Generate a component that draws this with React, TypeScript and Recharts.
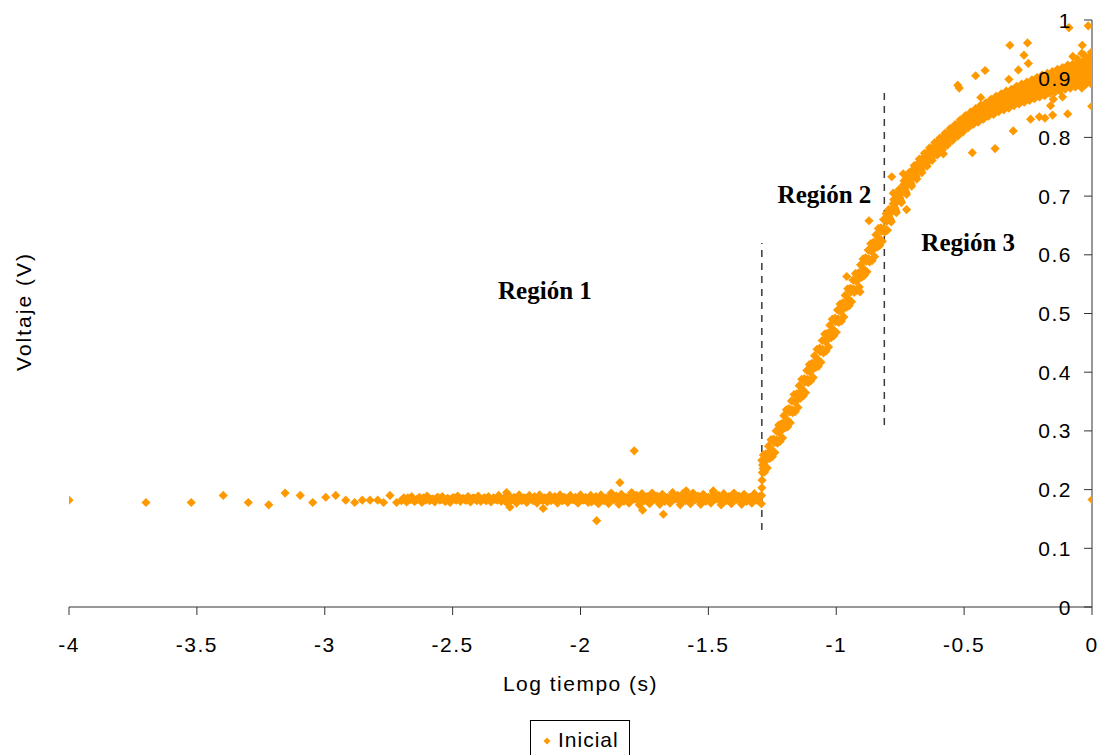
import React from "react";
import {
  Legend,
  ReferenceDot,
  ReferenceLine,
  Scatter,
  ScatterChart,
  XAxis,
  YAxis,
} from "recharts";

const SANS = '"Liberation Sans", Arial, sans-serif';
const SERIF = '"Liberation Serif", "Times New Roman", serif';
const ORANGE = "#FF9900";

const xTicks = [-4, -3.5, -3, -2.5, -2, -1.5, -1, -0.5, 0];
const yTicks = [0, 0.1, 0.2, 0.3, 0.4, 0.5, 0.6, 0.7, 0.8, 0.9, 1];

// sparse readings at the start (log t from -4 to about -2.7)
const earlyPoints: [number, number][] = [
  [-4.0, 0.182], [-3.699, 0.178], [-3.522, 0.178], [-3.397, 0.19], [-3.299, 0.178],
  [-3.219, 0.174], [-3.155, 0.194], [-3.096, 0.19], [-3.047, 0.178], [-2.996, 0.187],
  [-2.957, 0.19], [-2.918, 0.182], [-2.883, 0.178], [-2.853, 0.182], [-2.823, 0.182],
  [-2.793, 0.182], [-2.77, 0.178], [-2.745, 0.19], [-2.719, 0.178],
];

// region 1 plateau
const plateauPoints: [number, number][] = [
  [-2.70, 0.181], [-2.69, 0.186], [-2.68, 0.179], [-2.67, 0.184], [-2.66, 0.188],
  [-2.65, 0.18], [-2.64, 0.183], [-2.63, 0.187], [-2.62, 0.178], [-2.61, 0.185],
  [-2.60, 0.189], [-2.59, 0.181], [-2.58, 0.184], [-2.57, 0.179], [-2.56, 0.187],
  [-2.55, 0.182], [-2.54, 0.188], [-2.53, 0.18], [-2.52, 0.185], [-2.51, 0.178],
  [-2.50, 0.186], [-2.49, 0.183], [-2.48, 0.189], [-2.47, 0.18], [-2.46, 0.185],
  [-2.45, 0.182], [-2.44, 0.188], [-2.43, 0.179], [-2.42, 0.186], [-2.41, 0.183],
  [-2.40, 0.189], [-2.39, 0.18], [-2.38, 0.185], [-2.37, 0.181], [-2.36, 0.188],
  [-2.35, 0.179], [-2.34, 0.186], [-2.33, 0.183], [-2.32, 0.19], [-2.31, 0.18],
  [-2.30, 0.185], [-2.29, 0.178], [-2.28, 0.19], [-2.27, 0.182], [-2.26, 0.187],
  [-2.25, 0.177], [-2.24, 0.191], [-2.23, 0.181], [-2.22, 0.186], [-2.21, 0.178],
  [-2.20, 0.19], [-2.19, 0.183], [-2.18, 0.188], [-2.17, 0.177], [-2.16, 0.191],
  [-2.15, 0.182], [-2.14, 0.186], [-2.13, 0.179], [-2.12, 0.19], [-2.11, 0.184],
  [-2.10, 0.188], [-2.09, 0.177], [-2.08, 0.191], [-2.07, 0.181], [-2.06, 0.186],
  [-2.05, 0.178], [-2.04, 0.19], [-2.03, 0.183], [-2.02, 0.187], [-2.01, 0.177],
  [-2.00, 0.191], [-1.99, 0.182], [-1.98, 0.187], [-1.97, 0.178], [-1.96, 0.19],
  [-1.95, 0.184], [-1.94, 0.188], [-1.93, 0.176], [-1.92, 0.191], [-1.91, 0.181],
  [-1.90, 0.186], [-1.89, 0.176], [-1.88, 0.194], [-1.87, 0.183], [-1.86, 0.189],
  [-1.85, 0.175], [-1.84, 0.192], [-1.83, 0.18], [-1.82, 0.187], [-1.81, 0.177],
  [-1.80, 0.195], [-1.79, 0.184], [-1.78, 0.19], [-1.77, 0.174], [-1.76, 0.193],
  [-1.75, 0.181], [-1.74, 0.188], [-1.73, 0.176], [-1.72, 0.194], [-1.71, 0.183],
  [-1.70, 0.189], [-1.69, 0.175], [-1.68, 0.192], [-1.67, 0.18], [-1.66, 0.187],
  [-1.65, 0.177], [-1.64, 0.195], [-1.63, 0.184], [-1.62, 0.19], [-1.61, 0.174],
  [-1.60, 0.193], [-1.59, 0.181], [-1.58, 0.188], [-1.57, 0.176], [-1.56, 0.194],
  [-1.55, 0.183], [-1.54, 0.189], [-1.53, 0.175], [-1.52, 0.192], [-1.51, 0.18],
  [-1.50, 0.187], [-1.49, 0.177], [-1.48, 0.195], [-1.47, 0.184], [-1.46, 0.19],
  [-1.45, 0.174], [-1.44, 0.193], [-1.43, 0.181], [-1.42, 0.188], [-1.41, 0.176],
  [-1.40, 0.194], [-1.39, 0.183], [-1.38, 0.189], [-1.37, 0.175], [-1.36, 0.192],
  [-1.35, 0.18], [-1.34, 0.187], [-1.33, 0.177], [-1.32, 0.193], [-1.31, 0.182],
  [-1.30, 0.188],
];

// region 1 plateau, readings between the ones above
const plateauMidPoints: [number, number][] = [
  [-2.695, 0.184], [-2.685, 0.182], [-2.675, 0.186], [-2.665, 0.183], [-2.655, 0.185],
  [-2.645, 0.181], [-2.635, 0.184], [-2.625, 0.183], [-2.615, 0.186], [-2.605, 0.182],
  [-2.595, 0.185], [-2.585, 0.183], [-2.575, 0.184], [-2.565, 0.182], [-2.555, 0.186],
  [-2.545, 0.183], [-2.535, 0.185], [-2.525, 0.181], [-2.515, 0.184], [-2.505, 0.183],
  [-2.495, 0.186], [-2.485, 0.182], [-2.475, 0.185], [-2.465, 0.183], [-2.455, 0.184],
  [-2.445, 0.182], [-2.435, 0.186], [-2.425, 0.183], [-2.415, 0.185], [-2.405, 0.181],
  [-2.395, 0.184], [-2.385, 0.183], [-2.375, 0.186], [-2.365, 0.182], [-2.355, 0.185],
  [-2.345, 0.183], [-2.335, 0.184], [-2.325, 0.182], [-2.315, 0.186], [-2.305, 0.183],
  [-2.295, 0.185], [-2.285, 0.182], [-2.275, 0.186], [-2.265, 0.183], [-2.255, 0.185],
  [-2.245, 0.181], [-2.235, 0.187], [-2.225, 0.183], [-2.215, 0.185], [-2.205, 0.182],
  [-2.195, 0.186], [-2.185, 0.181], [-2.175, 0.185], [-2.165, 0.183], [-2.155, 0.187],
  [-2.145, 0.182], [-2.135, 0.185], [-2.125, 0.184], [-2.115, 0.181], [-2.105, 0.186],
  [-2.095, 0.183], [-2.085, 0.185], [-2.075, 0.182], [-2.065, 0.187], [-2.055, 0.184],
  [-2.045, 0.181], [-2.035, 0.186], [-2.025, 0.183], [-2.015, 0.185], [-2.005, 0.182],
  [-1.995, 0.187], [-1.985, 0.183], [-1.975, 0.185], [-1.965, 0.181], [-1.955, 0.186],
  [-1.945, 0.182], [-1.935, 0.185], [-1.925, 0.184], [-1.915, 0.187], [-1.905, 0.182],
  [-1.895, 0.18], [-1.885, 0.188], [-1.875, 0.184], [-1.865, 0.186], [-1.855, 0.181],
  [-1.845, 0.189], [-1.835, 0.183], [-1.825, 0.185], [-1.815, 0.18], [-1.805, 0.188],
  [-1.795, 0.184], [-1.785, 0.186], [-1.775, 0.181], [-1.765, 0.189], [-1.755, 0.183],
  [-1.745, 0.185], [-1.735, 0.18], [-1.725, 0.188], [-1.715, 0.184], [-1.705, 0.186],
  [-1.695, 0.181], [-1.685, 0.189], [-1.675, 0.183], [-1.665, 0.185], [-1.655, 0.18],
  [-1.645, 0.188], [-1.635, 0.184], [-1.625, 0.186], [-1.615, 0.181], [-1.605, 0.189],
  [-1.595, 0.183], [-1.585, 0.185], [-1.575, 0.18], [-1.565, 0.188], [-1.555, 0.184],
  [-1.545, 0.186], [-1.535, 0.181], [-1.525, 0.189], [-1.515, 0.183], [-1.505, 0.185],
  [-1.495, 0.18], [-1.485, 0.188], [-1.475, 0.184], [-1.465, 0.186], [-1.455, 0.181],
  [-1.445, 0.189], [-1.435, 0.183], [-1.425, 0.185], [-1.415, 0.18], [-1.405, 0.188],
  [-1.395, 0.184], [-1.385, 0.186], [-1.375, 0.181], [-1.365, 0.189], [-1.355, 0.183],
  [-1.345, 0.185], [-1.335, 0.18], [-1.325, 0.188], [-1.315, 0.184], [-1.305, 0.186],
];

// the jump at the start of region 2
const stepPoints: [number, number][] = [
  [-1.293, 0.176], [-1.292, 0.19], [-1.291, 0.203], [-1.29, 0.216], [-1.289, 0.229],
  [-1.288, 0.242], [-1.291, 0.25], [-1.286, 0.236],
];

// region 2 rise
const risePoints: [number, number][] = [
  [-1.285, 0.259], [-1.28, 0.23], [-1.275, 0.261], [-1.27, 0.237], [-1.265, 0.274],
  [-1.26, 0.253], [-1.255, 0.285], [-1.25, 0.256], [-1.245, 0.286], [-1.24, 0.263],
  [-1.235, 0.3], [-1.23, 0.279], [-1.225, 0.31], [-1.22, 0.282], [-1.215, 0.312],
  [-1.21, 0.288], [-1.205, 0.326], [-1.2, 0.305], [-1.195, 0.336], [-1.19, 0.307],
  [-1.185, 0.338], [-1.18, 0.314], [-1.175, 0.351], [-1.17, 0.331], [-1.165, 0.362],
  [-1.16, 0.333], [-1.155, 0.363], [-1.15, 0.34], [-1.145, 0.377], [-1.14, 0.356],
  [-1.135, 0.388], [-1.13, 0.359], [-1.125, 0.389], [-1.12, 0.365], [-1.115, 0.403],
  [-1.11, 0.382], [-1.105, 0.413], [-1.1, 0.385], [-1.095, 0.415], [-1.09, 0.391],
  [-1.085, 0.428], [-1.08, 0.408], [-1.075, 0.439], [-1.07, 0.41], [-1.065, 0.441],
  [-1.06, 0.417], [-1.055, 0.454], [-1.05, 0.433], [-1.045, 0.465], [-1.04, 0.436],
  [-1.035, 0.466], [-1.03, 0.443], [-1.025, 0.48], [-1.02, 0.459], [-1.015, 0.49],
  [-1.01, 0.462], [-1.005, 0.492], [-1.0, 0.468], [-0.995, 0.506], [-0.99, 0.485],
  [-0.985, 0.516], [-0.98, 0.487], [-0.975, 0.518], [-0.97, 0.494], [-0.965, 0.531],
  [-0.96, 0.511], [-0.955, 0.542], [-0.95, 0.513], [-0.945, 0.543], [-0.94, 0.52],
  [-0.935, 0.557], [-0.93, 0.536], [-0.925, 0.568], [-0.92, 0.539], [-0.915, 0.569],
  [-0.91, 0.545], [-0.905, 0.583], [-0.9, 0.562], [-0.895, 0.593], [-0.89, 0.565],
  [-0.885, 0.595], [-0.88, 0.571], [-0.875, 0.608], [-0.87, 0.588], [-0.865, 0.619],
  [-0.86, 0.59], [-0.855, 0.621], [-0.85, 0.597], [-0.845, 0.634], [-0.84, 0.613],
  [-0.835, 0.645], [-0.83, 0.616], [-0.825, 0.646], [-0.82, 0.623], [-0.815, 0.66],
  [-0.81, 0.639], [-0.805, 0.67], [-0.8, 0.642],
];

// region 2 rise, readings along the middle of the band
const riseMidPoints: [number, number][] = [
  [-1.2825, 0.246], [-1.2725, 0.251], [-1.2625, 0.263], [-1.2525, 0.268], [-1.2425, 0.28],
  [-1.2325, 0.285], [-1.2225, 0.297], [-1.2125, 0.302], [-1.2025, 0.315], [-1.1925, 0.319],
  [-1.1825, 0.332], [-1.1725, 0.336], [-1.1625, 0.349], [-1.1525, 0.353], [-1.1425, 0.366],
  [-1.1325, 0.371], [-1.1225, 0.383], [-1.1125, 0.388], [-1.1025, 0.4], [-1.0925, 0.405],
  [-1.0825, 0.417], [-1.0725, 0.422], [-1.0625, 0.435], [-1.0525, 0.439], [-1.0425, 0.452],
  [-1.0325, 0.456], [-1.0225, 0.469], [-1.0125, 0.473], [-1.0025, 0.486], [-0.9925, 0.491],
  [-0.9825, 0.503], [-0.9725, 0.508], [-0.9625, 0.52], [-0.9525, 0.525], [-0.9425, 0.537],
  [-0.9325, 0.542], [-0.9225, 0.555], [-0.9125, 0.559], [-0.9025, 0.572], [-0.8925, 0.576],
  [-0.8825, 0.589], [-0.8725, 0.593], [-0.8625, 0.606], [-0.8525, 0.61], [-0.8425, 0.623],
  [-0.8325, 0.628], [-0.8225, 0.64], [-0.8125, 0.645], [-0.8025, 0.657],
];

// region 3 saturation
const saturationPoints: [number, number][] = [
  [-0.795, 0.677], [-0.79, 0.661], [-0.785, 0.656], [-0.78, 0.68], [-0.775, 0.694],
  [-0.77, 0.678], [-0.765, 0.672], [-0.76, 0.697], [-0.755, 0.711], [-0.75, 0.695],
  [-0.745, 0.689], [-0.74, 0.712], [-0.735, 0.726], [-0.73, 0.709], [-0.725, 0.703],
  [-0.72, 0.726], [-0.715, 0.74], [-0.71, 0.723], [-0.705, 0.717], [-0.7, 0.74],
  [-0.695, 0.752], [-0.69, 0.735], [-0.685, 0.729], [-0.68, 0.751], [-0.675, 0.763],
  [-0.67, 0.746], [-0.665, 0.74], [-0.66, 0.762], [-0.655, 0.773], [-0.65, 0.757],
  [-0.645, 0.751], [-0.64, 0.772], [-0.635, 0.782], [-0.63, 0.766], [-0.625, 0.761],
  [-0.62, 0.781], [-0.615, 0.791], [-0.61, 0.776], [-0.605, 0.77], [-0.6, 0.79],
  [-0.595, 0.799], [-0.59, 0.785], [-0.585, 0.779], [-0.58, 0.797], [-0.575, 0.807],
  [-0.57, 0.793], [-0.565, 0.787], [-0.56, 0.805], [-0.555, 0.815], [-0.55, 0.801],
  [-0.545, 0.795], [-0.54, 0.813], [-0.535, 0.822], [-0.53, 0.808], [-0.525, 0.802],
  [-0.52, 0.82], [-0.515, 0.83], [-0.51, 0.815], [-0.505, 0.809], [-0.5, 0.827],
  [-0.495, 0.837], [-0.49, 0.822], [-0.485, 0.816], [-0.48, 0.833], [-0.475, 0.843],
  [-0.47, 0.828], [-0.465, 0.822], [-0.46, 0.839], [-0.455, 0.849], [-0.45, 0.834],
  [-0.445, 0.826], [-0.44, 0.845], [-0.435, 0.855], [-0.43, 0.838], [-0.425, 0.831],
  [-0.42, 0.85], [-0.415, 0.859], [-0.41, 0.843], [-0.405, 0.836], [-0.4, 0.855],
  [-0.395, 0.865], [-0.39, 0.847], [-0.385, 0.839], [-0.38, 0.859], [-0.375, 0.87],
  [-0.37, 0.852], [-0.365, 0.844], [-0.36, 0.864], [-0.355, 0.874], [-0.35, 0.856],
  [-0.345, 0.847], [-0.34, 0.868], [-0.335, 0.879], [-0.33, 0.86], [-0.325, 0.85],
  [-0.32, 0.871], [-0.315, 0.882], [-0.31, 0.863], [-0.305, 0.854], [-0.3, 0.875],
  [-0.295, 0.887], [-0.29, 0.866], [-0.285, 0.857], [-0.28, 0.88], [-0.275, 0.891],
  [-0.27, 0.869], [-0.265, 0.86], [-0.26, 0.883], [-0.255, 0.894], [-0.25, 0.873],
  [-0.245, 0.863], [-0.24, 0.887], [-0.235, 0.898], [-0.23, 0.876], [-0.225, 0.866],
  [-0.22, 0.89], [-0.215, 0.902], [-0.21, 0.879], [-0.205, 0.869], [-0.2, 0.893],
  [-0.195, 0.906], [-0.19, 0.883], [-0.185, 0.871], [-0.18, 0.896], [-0.175, 0.909],
  [-0.17, 0.886], [-0.165, 0.875], [-0.16, 0.899], [-0.155, 0.912], [-0.15, 0.889],
  [-0.145, 0.877], [-0.14, 0.902], [-0.135, 0.916], [-0.13, 0.892], [-0.125, 0.879],
  [-0.12, 0.905], [-0.115, 0.919], [-0.11, 0.894], [-0.105, 0.882], [-0.1, 0.908],
  [-0.095, 0.923], [-0.09, 0.896], [-0.085, 0.884], [-0.08, 0.911], [-0.075, 0.925],
  [-0.07, 0.899], [-0.065, 0.886], [-0.06, 0.914], [-0.055, 0.927], [-0.05, 0.901],
  [-0.045, 0.888], [-0.04, 0.916], [-0.035, 0.929], [-0.03, 0.903], [-0.025, 0.89],
  [-0.02, 0.918], [-0.015, 0.931], [-0.01, 0.905], [-0.005, 0.892], [0.0, 0.92],
  [-0.03, 0.94], [-0.012, 0.936], [-0.058, 0.934], [-0.003, 0.945], [-0.075, 0.938],
  [-0.02, 0.925], [-0.008, 0.925],
];

// region 3 saturation, readings between the ones above
const saturationMidPoints: [number, number][] = [
  [-0.7975, 0.67], [-0.7925, 0.664], [-0.7875, 0.659], [-0.7825, 0.673], [-0.7775, 0.687],
  [-0.7725, 0.681], [-0.7675, 0.675], [-0.7625, 0.69], [-0.7575, 0.704], [-0.7525, 0.698],
  [-0.7475, 0.692], [-0.7425, 0.706], [-0.7375, 0.719], [-0.7325, 0.713], [-0.7275, 0.706],
  [-0.7225, 0.72], [-0.7175, 0.733], [-0.7125, 0.727], [-0.7075, 0.72], [-0.7025, 0.734],
  [-0.6975, 0.746], [-0.6925, 0.739], [-0.6875, 0.733], [-0.6825, 0.745], [-0.6775, 0.757],
  [-0.6725, 0.75], [-0.6675, 0.744], [-0.6625, 0.756], [-0.6575, 0.767], [-0.6525, 0.761],
  [-0.6475, 0.755], [-0.6425, 0.766], [-0.6375, 0.776], [-0.6325, 0.77], [-0.6275, 0.765],
  [-0.6225, 0.775], [-0.6175, 0.785], [-0.6125, 0.78], [-0.6075, 0.774], [-0.6025, 0.784],
  [-0.5975, 0.794], [-0.5925, 0.788], [-0.5875, 0.782], [-0.5825, 0.792], [-0.5775, 0.802],
  [-0.5725, 0.796], [-0.5675, 0.79], [-0.5625, 0.8], [-0.5575, 0.81], [-0.5525, 0.804],
  [-0.5475, 0.798], [-0.5425, 0.808], [-0.5375, 0.818], [-0.5325, 0.811], [-0.5275, 0.805],
  [-0.5225, 0.815], [-0.5175, 0.825], [-0.5125, 0.819], [-0.5075, 0.812], [-0.5025, 0.822],
  [-0.4975, 0.832], [-0.4925, 0.826], [-0.4875, 0.819], [-0.4825, 0.829], [-0.4775, 0.838],
  [-0.4725, 0.832], [-0.4675, 0.825], [-0.4625, 0.835], [-0.4575, 0.844], [-0.4525, 0.838],
  [-0.4475, 0.831], [-0.4425, 0.84], [-0.4375, 0.849], [-0.4325, 0.843], [-0.4275, 0.836],
  [-0.4225, 0.845], [-0.4175, 0.854], [-0.4125, 0.847], [-0.4075, 0.841], [-0.4025, 0.85],
  [-0.3975, 0.86], [-0.3925, 0.852], [-0.3875, 0.844], [-0.3825, 0.854], [-0.3775, 0.864],
  [-0.3725, 0.857], [-0.3675, 0.849], [-0.3625, 0.859], [-0.3575, 0.869], [-0.3525, 0.861],
  [-0.3475, 0.852], [-0.3425, 0.863], [-0.3375, 0.874], [-0.3325, 0.865], [-0.3275, 0.855],
  [-0.3225, 0.866], [-0.3175, 0.877], [-0.3125, 0.868], [-0.3075, 0.859], [-0.3025, 0.87],
  [-0.2975, 0.881], [-0.2925, 0.872], [-0.2875, 0.863], [-0.2825, 0.874], [-0.2775, 0.885],
  [-0.2725, 0.875], [-0.2675, 0.866], [-0.2625, 0.877], [-0.2575, 0.888], [-0.2525, 0.879],
  [-0.2475, 0.869], [-0.2425, 0.881], [-0.2375, 0.892], [-0.2325, 0.882], [-0.2275, 0.872],
  [-0.2225, 0.884], [-0.2175, 0.896], [-0.2125, 0.885], [-0.2075, 0.875], [-0.2025, 0.887],
  [-0.1975, 0.9], [-0.1925, 0.889], [-0.1875, 0.877], [-0.1825, 0.89], [-0.1775, 0.903],
  [-0.1725, 0.892], [-0.1675, 0.881], [-0.1625, 0.893], [-0.1575, 0.906], [-0.1525, 0.895],
  [-0.1475, 0.884], [-0.1425, 0.896], [-0.1375, 0.909], [-0.1325, 0.898], [-0.1275, 0.886],
  [-0.1225, 0.899], [-0.1175, 0.912], [-0.1125, 0.9], [-0.1075, 0.889], [-0.1025, 0.902],
  [-0.0975, 0.916], [-0.0925, 0.903], [-0.0875, 0.891], [-0.0825, 0.904], [-0.0775, 0.918],
  [-0.0725, 0.906], [-0.0675, 0.893], [-0.0625, 0.907], [-0.0575, 0.92], [-0.0525, 0.908],
  [-0.0475, 0.895], [-0.0425, 0.909], [-0.0375, 0.922], [-0.0325, 0.91], [-0.0275, 0.897],
  [-0.0225, 0.911], [-0.0175, 0.924], [-0.0125, 0.912], [-0.0075, 0.899], [-0.0025, 0.913],
];

// scattered readings off the main trend
const strayPoints: [number, number][] = [
  [-1.79, 0.266], [-1.846, 0.212], [-1.937, 0.147], [-1.757, 0.165], [-1.676, 0.158],
  [-2.289, 0.195], [-2.276, 0.17], [-2.146, 0.168], [-1.957, 0.179], [-1.587, 0.198],
  [-1.481, 0.198],
  [-0.872, 0.658], [-0.725, 0.677], [-1.014, 0.49], [-0.907, 0.537], [-0.959, 0.563],
  [-0.09, 0.987], [-0.015, 0.99], [-0.321, 0.957], [-0.252, 0.961], [-0.266, 0.94],
  [-0.249, 0.926], [-0.038, 0.957], [-0.04, 0.943], [-0.418, 0.914], [-0.455, 0.905],
  [-0.525, 0.889], [-0.519, 0.884], [-0.435, 0.868], [-0.325, 0.899], [-0.288, 0.915],
  [-0.151, 0.865], [-0.162, 0.854], [-0.115, 0.869], [-0.095, 0.84], [-0.154, 0.838],
  [-0.206, 0.835], [-0.24, 0.831], [-0.184, 0.833], [-0.308, 0.811], [-0.379, 0.781],
  [-0.468, 0.774], [-0.036, 0.897], [-0.001, 0.853], [-0.04, 0.884], [-0.581, 0.772],
  [-0.783, 0.733], [-0.738, 0.738], [-0.777, 0.705], [0.0, 0.183],
];

const regionNotes = [
  { text: "Región 1", x: -2.139, y: 0.524 },
  { text: "Región 2", x: -1.046, y: 0.688 },
  { text: "Región 3", x: -0.484, y: 0.607 },
];

const boundaries = [
  { x: -1.291, from: 0.131, to: 0.62 },
  { x: -0.812, from: 0.31, to: 0.879 },
];

const points = [
  ...earlyPoints,
  ...plateauPoints,
  ...plateauMidPoints,
  ...stepPoints,
  ...risePoints,
  ...riseMidPoints,
  ...saturationPoints,
  ...saturationMidPoints,
  ...strayPoints,
].map(([x, y]) => ({ x, y }));

function Diamond(props: any) {
  const { cx, cy } = props;
  if (cx == null || cy == null) return null;
  const h = 4.6;
  return (
    <polygon
      points={`${cx},${cy - h} ${cx + h},${cy} ${cx},${cy + h} ${cx - h},${cy}`}
      fill={ORANGE}
    />
  );
}

function XTick(props: any) {
  const { x, y, payload } = props;
  return (
    <text x={x} y={y} dy="0.71em" textAnchor="middle" fill="#000"
      fontFamily={SANS} fontSize={21} letterSpacing={1.5}>
      {payload.value}
    </text>
  );
}

function YTick(props: any) {
  const { x, y, payload } = props;
  return (
    <text x={x} y={y} dy="0.36em" textAnchor="end" fill="#000"
      fontFamily={SANS} fontSize={21} letterSpacing={1.5}>
      {payload.value}
    </text>
  );
}

function XTitle(props: any) {
  const vb = props.viewBox || {};
  return (
    <text x={vb.x + vb.width / 2} y={vb.y + 69} dy="0.71em" textAnchor="middle"
      fill="#000" fontFamily={SANS} fontSize={21} letterSpacing={1.5}>
      Log tiempo (s)
    </text>
  );
}

function YTitle(props: any) {
  const vb = props.viewBox || {};
  const cx = vb.x + 23;
  const cy = vb.y + vb.height / 2 - 2;
  return (
    <text x={cx} y={cy} transform={`rotate(-90, ${cx}, ${cy})`} textAnchor="middle"
      dominantBaseline="central" fill="#000" fontFamily={SANS} fontSize={21} letterSpacing={2}>
      Voltaje (V)
    </text>
  );
}

function LegendBox() {
  return (
    <div
      style={{
        boxSizing: "border-box",
        width: 100,
        height: 40,
        border: "1px solid #000",
        background: "#fff",
        display: "flex",
        alignItems: "flex-start",
        paddingTop: 7,
        paddingLeft: 11,
        fontFamily: SANS,
        fontSize: 21,
        letterSpacing: 1,
        color: "#000",
      }}
    >
      <svg width={10} height={10} style={{ marginTop: 8 }}>
        <polygon points="5,1.5 8.5,5 5,8.5 1.5,5" fill={ORANGE} />
      </svg>
      <span style={{ marginLeft: 6, lineHeight: "24px" }}>Inicial</span>
    </div>
  );
}

export default function App() {
  return (
    <div style={{ position: "absolute", left: 0, top: 0, width: 1103, height: 755, background: "#fff", overflow: "hidden" }}>
      <ScatterChart width={1103} height={755} margin={{ top: 20, right: 11, bottom: 48, left: 0 }}>
        <XAxis
          type="number"
          dataKey="x"
          domain={[-4, 0]}
          ticks={xTicks}
          interval={0}
          allowDataOverflow
          height={100}
          stroke="#333"
          tickSize={8}
          tickMargin={22}
          tick={<XTick />}
          label={<XTitle />}
        />
        <YAxis
          yAxisId="title"
          orientation="left"
          type="number"
          domain={[0, 1]}
          width={69}
          tick={false}
          tickLine={false}
          axisLine={false}
          label={<YTitle />}
        />
        <Scatter
          yAxisId="v"
          name="Inicial"
          data={points}
          fill={ORANGE}
          shape={<Diamond />}
          isAnimationActive={false}
        />
        {boundaries.map((b) => (
          <ReferenceLine
            key={b.x}
            yAxisId="v"
            segment={[{ x: b.x, y: b.from }, { x: b.x, y: b.to }]}
            stroke="#3a3a3a"
            strokeWidth={1.5}
            strokeDasharray="7 6"
          />
        ))}
        {regionNotes.map((n) => (
          <ReferenceDot
            key={n.text}
            yAxisId="v"
            x={n.x}
            y={n.y}
            r={0}
            shape={(p: any) => (
              <text x={p.cx} y={p.cy} textAnchor="middle" fill="#000"
                fontFamily={SERIF} fontWeight="bold" fontSize={25}>
                {n.text}
              </text>
            )}
          />
        ))}
        <YAxis
          yAxisId="v"
          type="number"
          dataKey="y"
          orientation="right"
          mirror
          domain={[0, 1]}
          ticks={yTicks}
          interval={0}
          allowDataOverflow
          stroke="#333"
          tickSize={8}
          tickMargin={12}
          tick={<YTick />}
        />
        <Legend
          layout="horizontal"
          verticalAlign="middle"
          align="center"
          wrapperStyle={{ left: 530, top: 720, width: 100, height: 40 }}
          content={() => <LegendBox />}
        />
      </ScatterChart>
    </div>
  );
}
